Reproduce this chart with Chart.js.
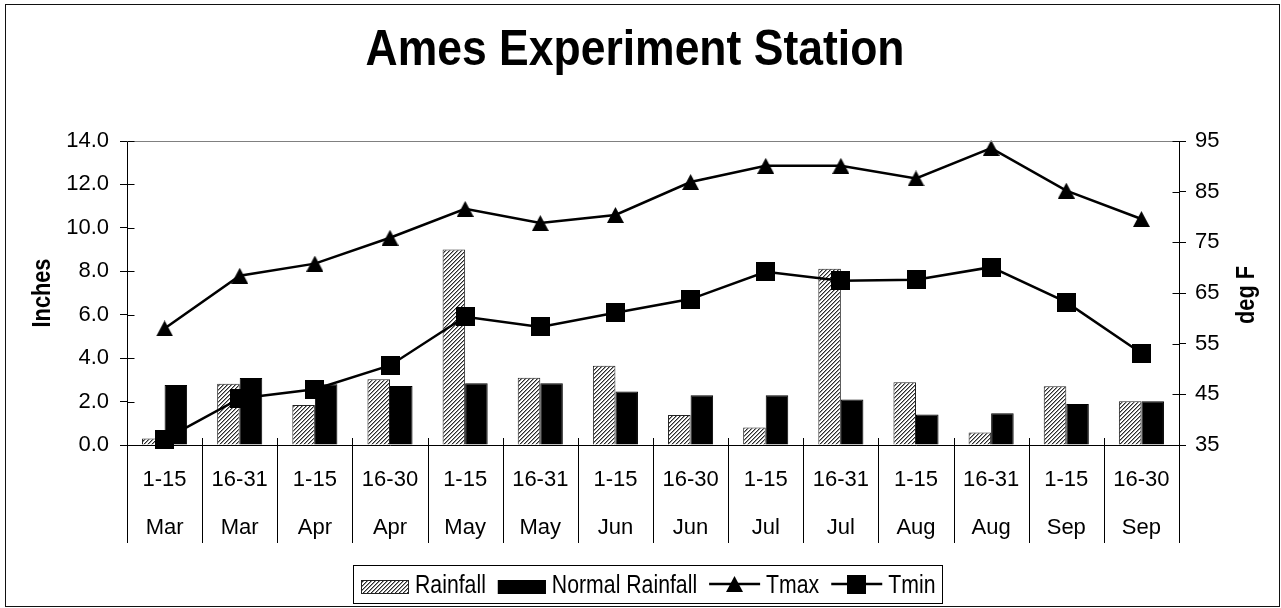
<!DOCTYPE html>
<html>
<head>
<meta charset="utf-8">
<script src="https://cdn.jsdelivr.net/npm/chart.js@4.4.0/dist/chart.umd.min.js"></script>
<style>
  html, body { margin: 0; padding: 0; background: #fff; }
  canvas { display: block; }
</style>
</head>
<body>
<canvas id="c" width="1281" height="608"></canvas>
<script>
// Half-month periods and their months (two-row category axis)
const periods = ['1-15', '16-31', '1-15', '16-30', '1-15', '16-31', '1-15', '16-30', '1-15', '16-31', '1-15', '16-31', '1-15', '16-30'];
const months = ['Mar', 'Mar', 'Apr', 'Apr', 'May', 'May', 'Jun', 'Jun', 'Jul', 'Jul', 'Aug', 'Aug', 'Sep', 'Sep'];

// Precipitation, inches
const rainfall = [0.30, 2.82, 1.84, 3.03, 9.00, 3.10, 3.65, 1.38, 0.81, 8.12, 2.89, 0.57, 2.70, 2.01];
const normalRainfall = [2.76, 3.08, 2.80, 2.72, 2.84, 2.84, 2.46, 2.29, 2.29, 2.09, 1.41, 1.46, 1.89, 2.01];

// Air temperature, deg F
const tmax = [58.0, 68.4, 70.8, 75.9, 81.6, 78.8, 80.4, 86.9, 90.1, 90.1, 87.6, 93.6, 85.2, 79.6];
const tmin = [36.1, 44.2, 46.0, 50.7, 60.3, 58.3, 61.1, 63.8, 69.2, 67.4, 67.6, 70.1, 63.2, 53.1];

// Axis ranges
const inchRange = [0, 14, 2];
const degRange = [35, 95, 10];

const titleText = 'Ames Experiment Station';
const leftAxisTitle = 'Inches';
const rightAxisTitle = 'deg F';

const FAMILY = '"Liberation Sans", Arial, Helvetica, sans-serif';
Chart.defaults.font.family = FAMILY;
Chart.defaults.color = '#000';

const canvas = document.getElementById('c');
const mainCtx = canvas.getContext('2d');

// Fine diagonal hatch used for the rainfall bars
function makeHatch() {
  const t = document.createElement('canvas');
  t.width = 4; t.height = 4;
  const g = t.getContext('2d');
  g.fillStyle = '#fff'; g.fillRect(0, 0, 4, 4);
  for (let yy = 0; yy < 4; yy++) {
    for (let xx = 0; xx < 4; xx++) {
      const k = (xx + yy) % 4;
      if (k === 3) { g.fillStyle = '#2a2a2a'; g.fillRect(xx, yy, 1, 1); }
      else if (k === 0) { g.fillStyle = '#9a9a9a'; g.fillRect(xx, yy, 1, 1); }
    }
  }
  return mainCtx.createPattern(t, 'repeat');
}
const hatch = makeHatch();

// Marker glyphs, centred on their bounding box
function triangleMarker(w, h) {
  const c = document.createElement('canvas');
  c.width = w; c.height = h;
  const g = c.getContext('2d');
  g.fillStyle = '#000';
  g.beginPath(); g.moveTo(w / 2, 0); g.lineTo(w, h); g.lineTo(0, h); g.closePath(); g.fill();
  return c;
}
function squareMarker(s) {
  const c = document.createElement('canvas');
  c.width = s; c.height = s;
  const g = c.getContext('2d');
  g.fillStyle = '#000'; g.fillRect(0, 0, s, s);
  return c;
}
const triMark = triangleMarker(17, 16);
const sqMark = squareMarker(19);

function hline(ctx, x1, y1, x2, y2) {
  ctx.beginPath(); ctx.moveTo(x1, y1); ctx.lineTo(x2, y2); ctx.stroke();
}
function crisp(v) { return Math.round(v) + 0.5; }

// Text drawn with a horizontal squeeze factor (narrow headline style)
function squeezedText(ctx, text, x, y, font, sx, rot) {
  ctx.save();
  ctx.font = font;
  ctx.translate(x, y);
  if (rot) ctx.rotate(rot);
  ctx.scale(sx, 1);
  ctx.textAlign = 'center';
  ctx.textBaseline = 'alphabetic';
  ctx.fillStyle = '#000';
  ctx.fillText(text, 0, 0);
  ctx.restore();
}

const decorations = {
  id: 'decorations',
  afterDraw(chart) {
    const ctx = chart.ctx;
    const a = chart.chartArea;
    const xs = chart.scales.x, ys = chart.scales.y, ys1 = chart.scales.y1;
    ctx.save();
    ctx.lineWidth = 1;

    // outer frame
    ctx.strokeStyle = '#111';
    ctx.strokeRect(5.5, 4.5, 1274, 602);

    // plot area top edge
    ctx.strokeStyle = '#808080';
    const yt = crisp(ys.getPixelForValue(inchRange[1]));
    hline(ctx, a.left, yt, a.right, yt);

    // inner halves of the value-axis tick marks
    ctx.strokeStyle = '#000';
    ys.ticks.forEach(t => {
      const p = crisp(ys.getPixelForValue(t.value));
      hline(ctx, crisp(a.left), p, crisp(a.left) + 7, p);
    });
    ys1.ticks.forEach(t => {
      const p = crisp(ys1.getPixelForValue(t.value));
      hline(ctx, crisp(a.right) - 7, p, crisp(a.right), p);
    });

    // category separators running through both label rows
    const n = xs.ticks.length;
    for (let i = 0; i <= n; i++) {
      let px;
      if (i === 0) px = a.left;
      else if (i === n) px = a.right;
      else px = (xs.getPixelForValue(i - 1) + xs.getPixelForValue(i)) / 2;
      px = crisp(px);
      hline(ctx, px, a.bottom - 7, px, a.bottom + 98);
    }

    // chart title
    ctx.font = 'bold 50px ' + FAMILY;
    const tw = ctx.measureText(titleText).width;
    squeezedText(ctx, titleText, 635, 65, 'bold 50px ' + FAMILY, 539 / tw, 0);

    // axis titles, both reading upward
    squeezedText(ctx, leftAxisTitle, 50, (a.top + a.bottom) / 2, 'bold 25px ' + FAMILY, 0.87, -Math.PI / 2);
    squeezedText(ctx, rightAxisTitle, 1254, (a.top + a.bottom) / 2 + 2, 'bold 25px ' + FAMILY, 0.87, -Math.PI / 2);

    // legend
    const ds = chart.data.datasets;
    const lfont = '25px ' + FAMILY;
    const sx = 0.85;
    const base = 593;
    ctx.font = lfont;
    let x = 361;
    const startX = x;
    function label(text) {
      ctx.save();
      ctx.font = lfont;
      const w = ctx.measureText(text).width * sx;
      ctx.translate(x, base); ctx.scale(sx, 1);
      ctx.textAlign = 'left'; ctx.textBaseline = 'alphabetic'; ctx.fillStyle = '#000';
      ctx.fillText(text, 0, 0);
      ctx.restore();
      x += w;
    }
    ds.forEach((d, i) => {
      if (i > 0) x += 12;
      if (d.type === 'bar') {
        ctx.fillStyle = d.backgroundColor;
        ctx.fillRect(x, 580, 48, 14);
        ctx.strokeStyle = d.borderColor;
        ctx.strokeRect(x + 0.5, 580.5, 47, 13);
        x += 48;
      } else {
        ctx.strokeStyle = '#000';
        ctx.lineWidth = 2.5;
        hline(ctx, x, 584, x + 51, 584);
        ctx.lineWidth = 1;
        const m = d.pointStyle;
        ctx.drawImage(m, Math.round(x + 25.5 - m.width / 2), Math.round(584 - m.height / 2));
        x += 51;
      }
      x += 6;
      label(d.label);
    });
    ctx.strokeStyle = '#000';
    ctx.lineWidth = 1;
    ctx.strokeRect(startX - 7.5, 565.5, Math.round(x - startX + 15), 38);

    ctx.restore();
  }
};

const labels = periods.map((p, i) => [p, months[i]]);

new Chart(mainCtx, {
  data: {
    labels: labels,
    datasets: [
      {
        type: 'bar', label: 'Rainfall', data: rainfall, yAxisID: 'y',
        backgroundColor: hatch, borderColor: '#222', borderWidth: 1,
        categoryPercentage: 0.6, barPercentage: 1.0, order: 2
      },
      {
        type: 'bar', label: 'Normal Rainfall', data: normalRainfall, yAxisID: 'y',
        backgroundColor: '#000', borderColor: '#000', borderWidth: 1,
        categoryPercentage: 0.6, barPercentage: 1.0, order: 2
      },
      {
        type: 'line', label: 'Tmax', data: tmax, yAxisID: 'y1',
        borderColor: '#000', borderWidth: 2.5, tension: 0, fill: false,
        pointStyle: triMark, pointRadius: 9, pointHoverRadius: 9, clip: false, order: 1
      },
      {
        type: 'line', label: 'Tmin', data: tmin, yAxisID: 'y1',
        borderColor: '#000', borderWidth: 2.5, tension: 0, fill: false,
        pointStyle: sqMark, pointRadius: 9, pointHoverRadius: 9, clip: false, order: 0
      }
    ]
  },
  options: {
    responsive: false,
    animation: false,
    devicePixelRatio: 1,
    layout: { padding: { top: 141, left: 0, right: 0, bottom: 0 } },
    plugins: {
      legend: { display: false },
      title: { display: false },
      tooltip: { enabled: false }
    },
    scales: {
      x: {
        type: 'category',
        offset: true,
        grid: { display: true, drawOnChartArea: false, drawTicks: false },
        border: { display: true, color: '#000', width: 1 },
        ticks: {
          autoSkip: false, maxRotation: 0, minRotation: 0,
          padding: 11, color: '#000',
          font: { size: 22, lineHeight: 48 / 22 }
        },
        afterFit(s) { s.height = 163; }
      },
      y: {
        position: 'left',
        min: inchRange[0], max: inchRange[1],
        grid: { drawOnChartArea: false, drawTicks: true, tickLength: 7, tickColor: '#000', color: '#000' },
        border: { display: true, color: '#000', width: 1 },
        ticks: {
          stepSize: inchRange[2], padding: 11, color: '#000',
          font: { size: 22 },
          callback: v => Number(v).toFixed(1)
        },
        afterFit(s) { s.width = 127; }
      },
      y1: {
        position: 'right',
        min: degRange[0], max: degRange[1],
        grid: { drawOnChartArea: false, drawTicks: true, tickLength: 7, tickColor: '#000', color: '#000' },
        border: { display: true, color: '#000', width: 1 },
        ticks: {
          stepSize: degRange[2], padding: 9, color: '#000',
          font: { size: 22 }
        },
        afterFit(s) { s.width = 102; }
      }
    }
  },
  plugins: [decorations]
});
</script>
</body>
</html>
